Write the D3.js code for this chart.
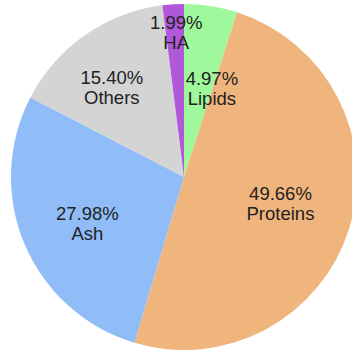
<!DOCTYPE html>
<html>
<head>
<meta charset="utf-8">
<script src="https://cdn.jsdelivr.net/npm/d3@7/dist/d3.min.js"></script>
<style>
  html, body { margin: 0; padding: 0; background: #fff; }
  svg { display: block; }
</style>
</head>
<body>
<script>
// Composition shares, clockwise from 12 o'clock
const categories = ["Lipids", "Proteins", "Ash", "Others", "HA"];
const shares = [4.97, 49.66, 27.98, 15.40, 1.99];
const sliceColors = ["#9ff89b", "#f0b47d", "#90bdf8", "#d4d4d4", "#b158d8"];

const W = 352, H = 351;
const cx = 184, cy = 177, R = 173;

// Label placement: polar radius and angle shift (degrees) around each slice's mid-angle
const labelPlacement = {
  Lipids:   { r: 93,  shift: 8.5 },
  Proteins: { r: 100, shift: -2 },
  Ash:      { r: 107, shift: -2.5 },
  Others:   { r: 115, shift: -4 },
  HA:       { r: 145, shift: 0.5 }
};

const data = categories.map((c, i) => ({ name: c, value: shares[i], color: sliceColors[i] }));

const svg = d3.select("body").append("svg")
  .attr("width", W).attr("height", H);

const g = svg.append("g").attr("transform", `translate(${cx},${cy})`);

const pie = d3.pie().value(d => d.value).sort(null);
const arc = d3.arc().innerRadius(0).outerRadius(R);
const arcs = pie(data);

g.selectAll("path.slice")
  .data(arcs)
  .join("path")
  .attr("class", "slice")
  .attr("d", arc)
  .attr("fill", d => d.data.color);

const fmt = d3.format(".2f");
const labels = g.selectAll("text.lbl")
  .data(arcs)
  .join("text")
  .attr("class", "lbl")
  .attr("text-anchor", "middle")
  .attr("font-family", "'Liberation Sans', Arial, sans-serif")
  .attr("font-size", 18.5)
  .attr("fill", "#222")
  .attr("transform", d => {
    const p = labelPlacement[d.data.name];
    const a = (d.startAngle + d.endAngle) / 2 + p.shift * Math.PI / 180;
    const x = Math.sin(a) * p.r;
    const y = -Math.cos(a) * p.r;
    return `translate(${x},${y})`;
  });

labels.append("tspan")
  .attr("x", 0).attr("y", -3)
  .text(d => fmt(d.data.value) + "%");
labels.append("tspan")
  .attr("x", 0).attr("y", 17)
  .text(d => d.data.name);
</script>
</body>
</html>
